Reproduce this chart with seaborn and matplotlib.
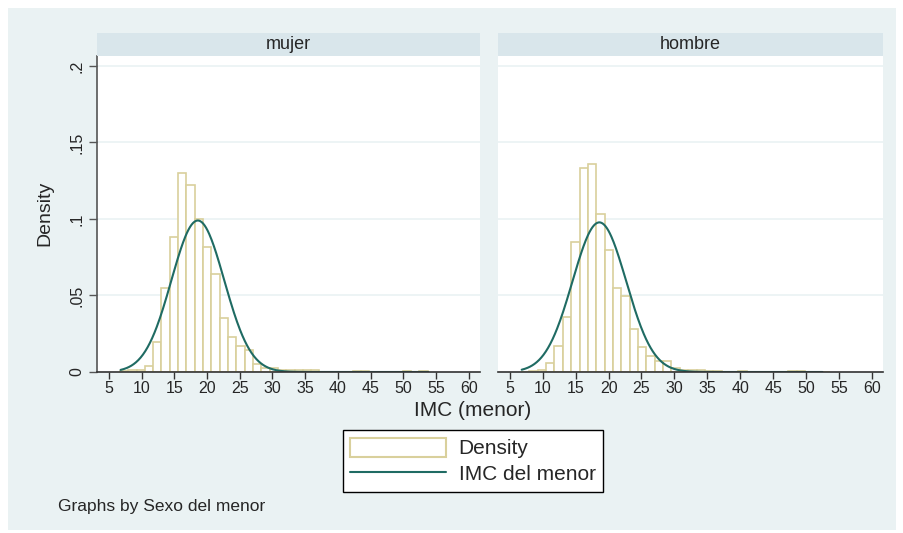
import numpy as np
import seaborn as sns
import matplotlib
matplotlib.use("Agg")
import matplotlib.pyplot as plt
from matplotlib.patches import Rectangle, Patch
from matplotlib.lines import Line2D

# histogram bins (shared by both panels)
bin_start = 6.7
bin_width = 1.27
n_bins = 37

# bar heights (density), one per bin
mujer_density = [0.0007, 0.001, 0.0013, 0.004, 0.0196, 0.055, 0.088, 0.130, 0.122, 0.100,
                 0.082, 0.064, 0.035, 0.023, 0.017, 0.0145, 0.0053, 0.0026, 0.0024, 0.0013,
                 0.0013, 0.0013, 0.0013, 0.0013, 0.0, 0.0, 0.0, 0.0, 0.0008, 0.0008,
                 0.0, 0.0, 0.0, 0.0, 0.0006, 0.0, 0.0005]
hombre_density = [0.0, 0.0005, 0.001, 0.006, 0.017, 0.036, 0.085, 0.133, 0.136, 0.103,
                  0.080, 0.0546, 0.0496, 0.0283, 0.0162, 0.0105, 0.0075, 0.0075, 0.0026, 0.0011,
                  0.0011, 0.0013, 0.0007, 0.0007, 0.0, 0.0, 0.0005, 0.0, 0.0, 0.0,
                  0.0, 0.0, 0.0006, 0.0006, 0.0, 0.0, 0.0]

# fitted normal curves (mean, sd, data range)
mujer_normal = (18.6, 4.03, 6.8, 53.8)
hombre_normal = (18.6, 4.08, 6.8, 52.5)

panels = ["mujer", "hombre"]
x_ticks = list(range(5, 61, 5))
y_ticks = [0, 0.05, 0.1, 0.15, 0.2]
y_tick_labels = ["0", ".05", ".1", ".15", ".2"]

BAR_EDGE = "#d9d09c"
LINE_COLOR = "#1f6b63"
BG = "#eaf2f3"
STRIP = "#d9e6eb"

W, H = 904, 533


def box(x0, y0, x1, y1):
    # pixel box (top-left origin) -> figure fraction rect
    return [x0 / W, 1 - y1 / H, (x1 - x0) / W, (y1 - y0) / H]


sns.set_style("white")
plt.rcParams["font.family"] = ["Liberation Sans", "DejaVu Sans"]

fig = plt.figure(figsize=(W / 100, H / 100), dpi=100, facecolor="white")
fig.patches.append(Rectangle((8 / W, 3 / H), 888 / W, 522 / H, transform=fig.transFigure,
                             facecolor=BG, edgecolor="none", zorder=-10))

edges = [bin_start + bin_width * k for k in range(n_bins + 1)]
centers = [(a + b) / 2 for a, b in zip(edges[:-1], edges[1:])]

panel_boxes = [(97, 56, 480, 372), (498, 56, 883, 372)]
data = [mujer_density, hombre_density]
normals = [mujer_normal, hombre_normal]

for i, name in enumerate(panels):
    x0, y0, x1, y1 = panel_boxes[i]
    ax = fig.add_axes(box(x0, y0, x1, y1))
    ax.set_facecolor("white")

    sns.histplot(x=centers, weights=data[i], bins=edges, stat="count", ax=ax,
                 facecolor="white", edgecolor=BAR_EDGE, linewidth=1.2, zorder=2)

    mu, sd, lo, hi = normals[i]
    xs = np.linspace(lo, hi, 400)
    ys = np.exp(-0.5 * ((xs - mu) / sd) ** 2) / (sd * np.sqrt(2 * np.pi))
    sns.lineplot(x=xs, y=ys, ax=ax, color=LINE_COLOR, linewidth=1.5, zorder=3)

    ax.set_xlim(3.2, 61.7)
    ax.set_ylim(0, 0.2065)
    ax.set_xticks(x_ticks)
    ax.set_xticklabels([str(t) for t in x_ticks], fontsize=11.5)
    ax.set_yticks(y_ticks)
    ax.grid(axis="y", color=BG, linewidth=1.2, zorder=0)
    ax.set_axisbelow(True)
    ax.set_xlabel("")
    ax.set_ylabel("")
    ax.tick_params(axis="x", direction="out", length=5, width=1, color="#333333", pad=1.5, bottom=True)
    for s in ["top", "right"]:
        ax.spines[s].set_visible(False)
    ax.spines["bottom"].set_color("#333333")
    ax.spines["bottom"].set_linewidth(1.2)
    ax.spines["bottom"].set_zorder(5)
    if i == 0:
        ax.set_yticklabels(y_tick_labels, fontsize=11.5, rotation=90, va="center")
        ax.tick_params(axis="y", direction="out", length=6, width=1, color="#555555", pad=3, left=True)
        ax.spines["left"].set_color("#555555")
        ax.spines["left"].set_linewidth(1.2)
    else:
        ax.spines["left"].set_visible(False)
        ax.tick_params(axis="y", left=False, labelleft=False)

    # strip header
    sax = fig.add_axes(box(x0, 33, x1, 56))
    sax.set_facecolor(STRIP)
    sax.set_xticks([])
    sax.set_yticks([])
    for s in sax.spines.values():
        s.set_visible(False)
    sax.text(0.5, 0.5, name, ha="center", va="center", fontsize=13, transform=sax.transAxes)

fig.text(45 / W, 1 - 213 / H, "Density", rotation=90, ha="center", va="center", fontsize=14)
fig.text(473 / W, 1 - 411 / H, "IMC (menor)", ha="center", va="center", fontsize=15)
fig.text(58 / W, 1 - 507 / H, "Graphs by Sexo del menor", ha="left", va="center", fontsize=12.5)

handles = [Patch(facecolor="white", edgecolor=BAR_EDGE, linewidth=1.5),
           Line2D([0], [0], color=LINE_COLOR, linewidth=1.5)]
leg = fig.legend(handles, ["Density", "IMC del menor"], loc="center",
                 bbox_to_anchor=(473 / W, 1 - 461 / H), fontsize=15, frameon=True,
                 fancybox=False, edgecolor="black", framealpha=1, handlelength=4.6,
                 handleheight=1.05, labelspacing=0.25, borderpad=0.35, handletextpad=0.6,
                 borderaxespad=0)
leg.get_frame().set_linewidth(1.0)

fig.savefig("out.png", dpi=100, facecolor="white")
